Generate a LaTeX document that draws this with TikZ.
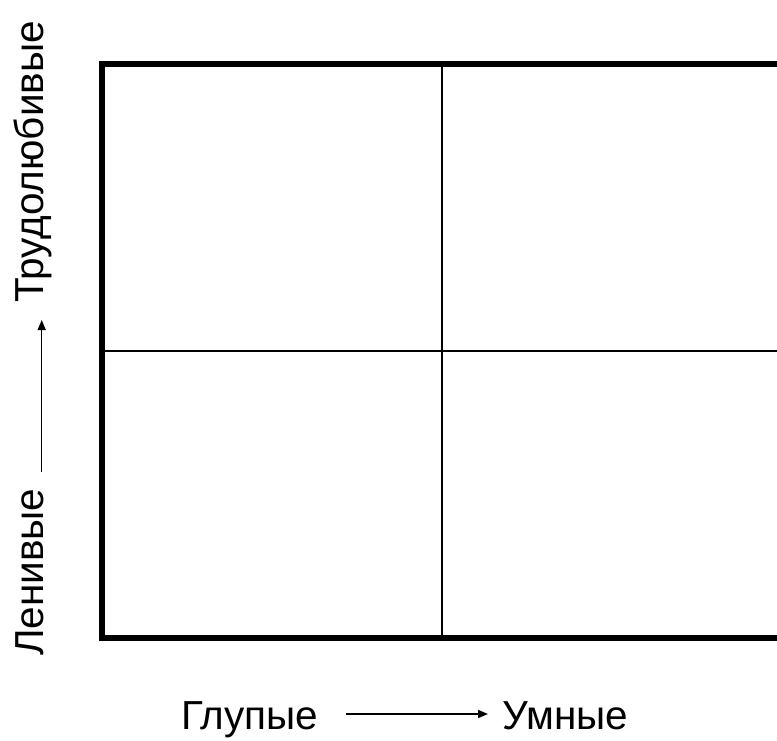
\documentclass[tikz,border=0pt]{standalone}
\usepackage{fontspec}
\setmainfont{Liberation Sans}
\usetikzlibrary{arrows.meta}
\tikzset{
  frame/.style={line width=6.5pt},
  divider/.style={line width=2.5pt},
  axislabel/.style={inner sep=0pt, font=\fontsize{40.5}{48}\selectfont},
  axisarrow/.style={line width=1.5pt, -{Triangle[length=10pt,width=8pt]}}
}
\begin{document}
\begin{tikzpicture}[x=1pt,y=-1pt]
\useasboundingbox (0,0) rectangle (777,741);
\begin{scope}
\clip (0,0) rectangle (777,741);
\draw[frame] (102,64) rectangle (800,638);
\draw[divider] (442,64) -- (442,638);
\draw[divider] (102,351) -- (800,351);
\end{scope}
% bottom axis
\node[axislabel, anchor=base west] (glup) at (181,729) {Глупые};
\node[axislabel, anchor=base west] (umn) at (502,729) {Умные};
\coordinate (xa) at (346,714);
\coordinate (xb) at (488,714);
\draw[axisarrow] (xa) -- (xb);
% left axis
\node[axislabel, anchor=base west, rotate=90] (len) at (43,656) {Ленивые};
\node[axislabel, anchor=base west, rotate=90] (trud) at (43,303) {Трудолюбивые};
\coordinate (ya) at (41.7,472);
\coordinate (yb) at (41.7,320);
\draw[axisarrow] (ya) -- (yb);
\end{tikzpicture}
\end{document}
